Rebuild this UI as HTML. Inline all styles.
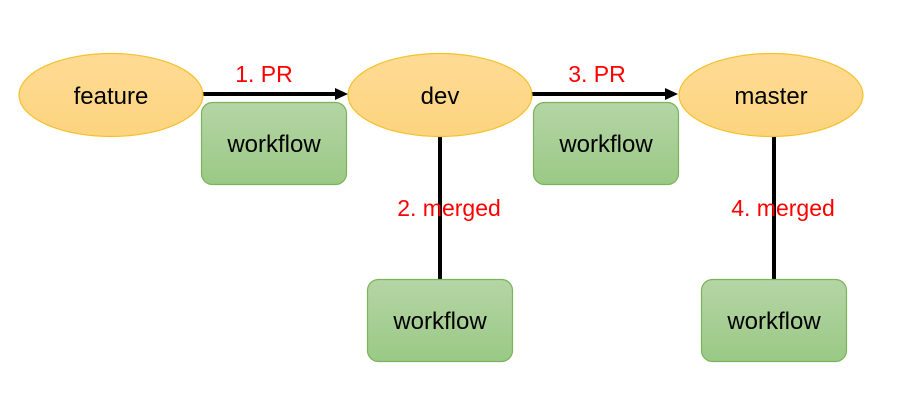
<!DOCTYPE html>
<html><head><meta charset="utf-8"><style>body{margin:0;background:#fff}</style></head>
<body>
<svg width="916" height="406" viewBox="0 0 916 406" xmlns="http://www.w3.org/2000/svg" font-family="Liberation Sans, sans-serif">
<defs>
<linearGradient id="y" x1="0" y1="0" x2="0" y2="1"><stop offset="0" stop-color="#fedb94"/><stop offset="1" stop-color="#fdd47f"/></linearGradient>
<linearGradient id="g" x1="0" y1="0" x2="0" y2="1"><stop offset="0" stop-color="#b5d5a5"/><stop offset="1" stop-color="#9ac985"/></linearGradient>
</defs>
<g stroke="#000" stroke-width="4">
<line x1="203" y1="94" x2="336" y2="94"/>
<line x1="532" y1="94" x2="666" y2="94"/>
<line x1="440" y1="136" x2="440" y2="279"/>
<line x1="774" y1="136" x2="774" y2="279"/>
</g>
<polygon points="348,94 335,88 335,100" fill="#000"/>
<polygon points="678,94 665,88 665,100" fill="#000"/>
<g fill="url(#y)" stroke="#f5c02b" stroke-width="1.2">
<ellipse cx="111" cy="95" rx="92" ry="41.5"/>
<ellipse cx="440" cy="95" rx="92" ry="41.5"/>
<ellipse cx="771" cy="95" rx="92" ry="41.5"/>
</g>
<g fill="url(#g)" stroke="#7cb35a" stroke-width="1.2">
<rect x="201.5" y="102.5" width="145" height="82" rx="11"/>
<rect x="533.5" y="102.5" width="145" height="82" rx="11"/>
<rect x="367.5" y="279.5" width="145" height="82" rx="11"/>
<rect x="701.5" y="279.5" width="145" height="82" rx="11"/>
</g>
<g font-size="24" text-anchor="middle" fill="#000">
<text x="111" y="104">feature</text>
<text x="440" y="104">dev</text>
<text x="771" y="104">master</text>
<text x="274" y="152">workflow</text>
<text x="606" y="152">workflow</text>
<text x="440" y="329">workflow</text>
<text x="774" y="329">workflow</text>
</g>
<g font-size="23" text-anchor="middle" fill="#ff0000">
<text x="264" y="82">1. PR</text>
<text x="597" y="82">3. PR</text>
<text x="449" y="216">2. merged</text>
<text x="783" y="216">4. merged</text>
</g>
</svg>
</body></html>
